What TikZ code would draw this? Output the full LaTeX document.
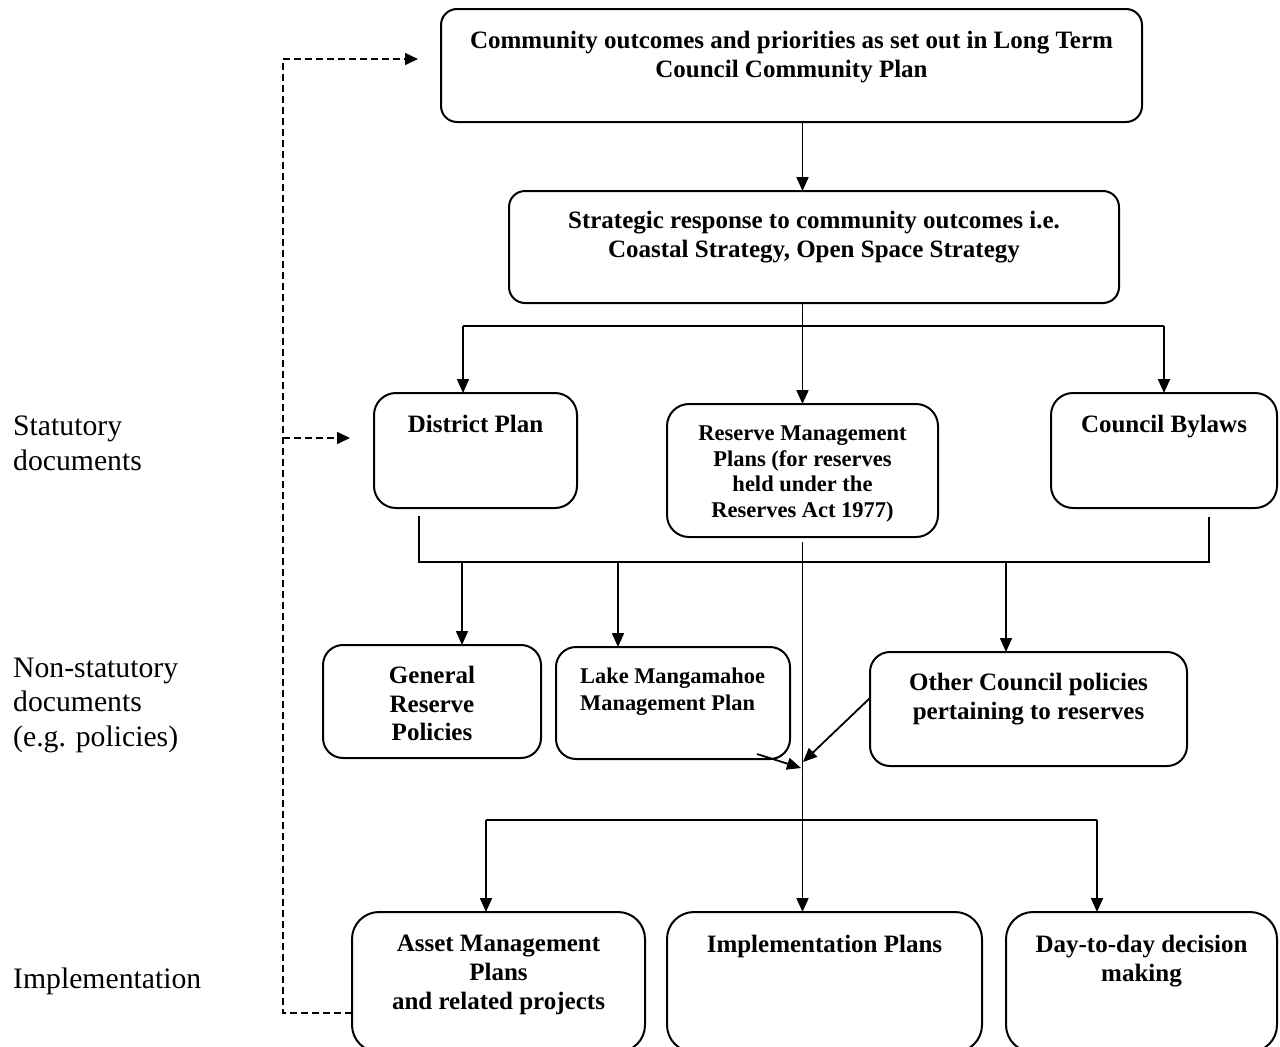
\documentclass[tikz,border=0pt]{standalone}
\usepackage{fontspec}
\setmainfont{Liberation Serif}
\usetikzlibrary{arrows.meta,calc}
\begin{document}
\begin{tikzpicture}[x=1pt,y=-1pt,
  box/.style={draw, line width=2pt, rounded corners=#1, inner sep=0pt, outer sep=0pt, anchor=north west},
  btxt/.style={font=\fontsize{25}{28.7}\selectfont\bfseries, align=center, inner sep=0pt, anchor=north},
  stxt/.style={font=\fontsize{22.5}{25.7}\selectfont\bfseries, align=center, inner sep=0pt, anchor=north},
  lbl/.style={font=\fontsize{29.7}{34.2}\selectfont, align=left, inner sep=0pt, anchor=north west},
  ln/.style={line width=1.8pt},
  arr/.style={line width=1.8pt, -{Triangle[length=14pt,width=12pt]}},
  dsh/.style={line width=1.5pt, dash pattern=on 7pt off 4pt},
  dsharr/.style={dsh, -{Triangle[length=13pt,width=12pt]}}
]
\useasboundingbox[fill=white] (0,0) rectangle (1280,1047);

% side labels
\node[lbl] (lstat) at (13,416) {Statutory\\documents};
\node[lbl] (lnon) at (13,658) {Non-statutory\\documents\\(e.g. policies)};
\node[lbl] (limp) at (13,968) {Implementation};

% boxes
\node[box=16pt, minimum width=701pt, minimum height=113pt] (top) at (441,9) {};
\node[box=16pt, minimum width=610pt, minimum height=112pt] (strat) at (509,191) {};
\node[box=22pt, minimum width=203pt, minimum height=115pt] (dist) at (374,393) {};
\node[box=22pt, minimum width=271pt, minimum height=133pt] (rmp) at (667,404) {};
\node[box=22pt, minimum width=226pt, minimum height=115pt] (bylaws) at (1051,393) {};
\node[box=20pt, minimum width=218pt, minimum height=113pt] (grp) at (323,645) {};
\node[box=20pt, minimum width=234pt, minimum height=112pt] (lake) at (556,647) {};
\node[box=20pt, minimum width=317pt, minimum height=114pt] (other) at (870,652) {};
\node[box=27pt, minimum width=293pt, minimum height=140pt] (asset) at (352,912) {};
\node[box=27pt, minimum width=315pt, minimum height=140pt] (impl) at (667,912) {};
\node[box=27pt, minimum width=271pt, minimum height=140pt] (day) at (1006,912) {};

% texts
\node[btxt] (ttop) at (791.5,31) {Community outcomes and priorities as set out in Long Term\\Council Community Plan};
\node[btxt] (tstrat) at (814,211) {Strategic response to community outcomes i.e.\\Coastal Strategy, Open Space Strategy};
\node[btxt] (tdist) at (475.5,415) {District Plan};
\node[stxt] (trmp) at (802.5,425.5) {Reserve Management\\Plans (for reserves\\held under the\\Reserves Act 1977)};
\node[btxt] (tbylaws) at (1164,415) {Council Bylaws};
\node[btxt] (tgrp) at (432,666) {General\\Reserve\\Policies};
\node[font=\fontsize{22.4}{27}\selectfont\bfseries, align=left, inner sep=0pt, anchor=north west] (tlake) at (580,667.5) {Lake Mangamahoe\\Management Plan};
\node[btxt] (tother) at (1028.5,673) {Other Council policies\\pertaining to reserves};
\node[btxt] (tasset) at (498.5,935) {Asset Management\\Plans\\and related projects};
\node[btxt] (timpl) at (824.5,935) {Implementation Plans};
\node[btxt] (tday) at (1141.5,935) {Day-to-day decision\\making};

% coordinates
\coordinate (spine) at (802.5,0);
\coordinate (b1) at (463,326);
\coordinate (b2) at (1164,326);
\coordinate (m1) at (419,562);
\coordinate (m2) at (1209,562);
\coordinate (d1) at (462,562);
\coordinate (d2) at (618,562);
\coordinate (d3) at (1006,562);
\coordinate (la) at (757,754);
\coordinate (jn1) at (801,768);
\coordinate (jn2) at (803,762);
\coordinate (h1) at (486,820);
\coordinate (h2) at (1097,820);
\coordinate (fb1) at (283,59);
\coordinate (fb2) at (283,438);
\coordinate (fb3) at (283,1013);

% connectors
\draw[arr] (top.south -| spine) -- (strat.north -| spine);
\draw[arr] (strat.south -| spine) -- (rmp.north -| spine);
\draw[ln] (b1) -- (b2);
\draw[arr] (b1) -- (dist.north -| b1);
\draw[arr] (b2) -- (bylaws.north -| b2);
\draw[ln, shorten <=8pt, shorten >=9pt] (dist.south -| m1) -- (m1) -- (m2) -- (bylaws.south -| m2);
\draw[arr] (d1) -- (grp.north -| d1);
\draw[arr] (d2) -- (lake.north -| d2);
\draw[arr] (d3) -- (other.north -| d3);
\draw[arr, shorten <=5pt] (rmp.south -| spine) -- (impl.north -| spine);
\draw[arr] (la) -- (jn1);
\draw[arr] ([yshift=11pt]other.west) -- (jn2);
\draw[ln] (h1) -- (h2);
\draw[arr] (h1) -- (asset.north -| h1);
\draw[arr] (h2) -- (day.north -| h2);

% dashed feedback
\draw[dsh] (asset.west |- fb3) -- (fb3) -- (fb1);
\draw[dsharr, shorten >=23pt] (fb1) -- (top.west |- fb1);
\draw[dsharr, shorten >=24pt] (fb2) -- (dist.west |- fb2);
\end{tikzpicture}
\end{document}
